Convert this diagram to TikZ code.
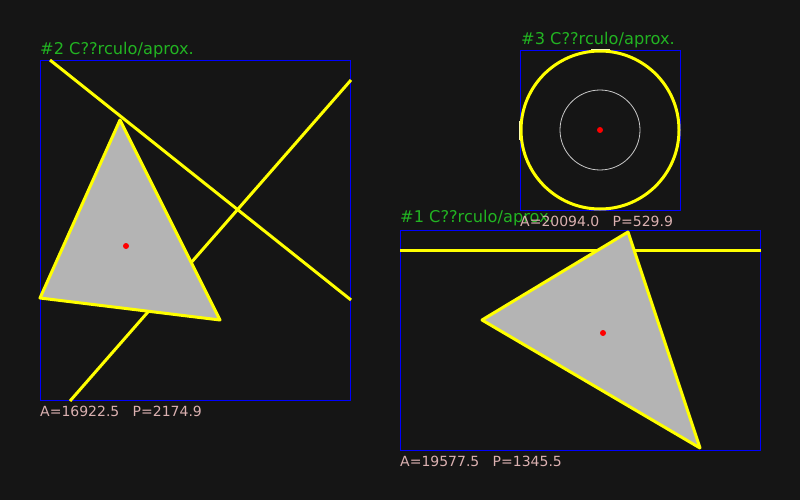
\documentclass[tikz,border=0pt]{standalone}
\usepackage{fontspec}
\setmainfont{DejaVu Sans}
\definecolor{bg}{RGB}{21,21,21}
\definecolor{boxblue}{RGB}{0,0,255}
\definecolor{shapeyel}{RGB}{255,255,0}
\definecolor{tickyel}{RGB}{255,255,170}
\definecolor{labgreen}{RGB}{34,180,34}
\definecolor{labpink}{RGB}{218,176,176}
\definecolor{fillgray}{RGB}{180,180,180}
\definecolor{ringgray}{RGB}{200,200,200}
\begin{document}
\begin{tikzpicture}[x=1pt,y=-1pt,
  bbox/.style={draw=boxblue,line width=1.1pt},
  yline/.style={draw=shapeyel,line width=3pt},
  tri/.style={draw=shapeyel,fill=fillgray,line width=3pt,line join=round},
  ring/.style={draw=ringgray,line width=0.8pt},
  cdot/.style={fill=red,draw=none},
  tick/.style={draw=tickyel,line width=1pt},
  title/.style={anchor=base west,inner sep=0pt,text=labgreen,font=\fontsize{16.2}{17}\selectfont},
  meas/.style={anchor=base west,inner sep=0pt,text=labpink,font=\fontsize{14}{16}\selectfont}]
\useasboundingbox (0,0) rectangle (800,500);
\fill[bg] (0,0) rectangle (800,500);

% ---- panel 2 ----
\draw[bbox] (40.5,60.5) rectangle (350.5,400.5);
\draw[yline] (50,60) -- (351,300);
\draw[yline] (351,80) -- (70,401);
\draw[tri] (120,120) -- (40,298) -- (220,320) -- cycle;
\fill[cdot] (126,246) circle (3);
\node[title] (t2) at (40,55) {\#2 C??rculo/aprox.};
\node[meas] (m2) at (40,416) {A=16922.5~~~P=2174.9};

% ---- panel 3 ----
\draw[bbox] (520.5,50.5) rectangle (680.5,210.5);
\draw[yline] (600,130) circle (79);
\draw[ring] (600,130) circle (40);
\fill[cdot] (600,130) circle (3);
\draw[tick] (591,49.5) -- (610,49.5);
\draw[tick] (519.5,121) -- (519.5,140);
\node[title] (t3) at (521,45) {\#3 C??rculo/aprox.};

% ---- panel 1 ----
\draw[bbox] (400.5,230.5) rectangle (760.5,450.5);
\draw[yline] (400,250) -- (761,250);
\draw[tri] (628,232) -- (482,320) -- (700,448) -- cycle;
\fill[cdot] (603,333) circle (3);
\node[title] (t1) at (400,222) {\#1 C??rculo/aprox.};
\node[meas] (m3) at (520,226) {A=20094.0~~~P=529.9};
\node[meas] (m1) at (400,466) {A=19577.5~~~P=1345.5};
\end{tikzpicture}
\end{document}
